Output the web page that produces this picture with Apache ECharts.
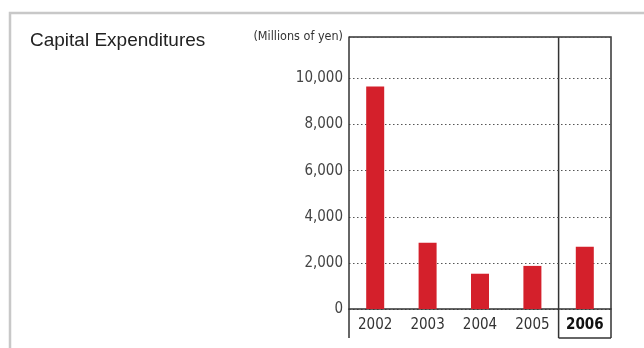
<!DOCTYPE html>
<html>
<head>
<meta charset="utf-8">
<script src="https://cdn.jsdelivr.net/npm/echarts@6/dist/echarts.min.js"></script>
<style>
  html, body { margin: 0; padding: 0; background: #fff; }
  #main { width: 644px; height: 348px; }
</style>
</head>
<body>
<div id="main"></div>
<script>
  const years = ['2002', '2003', '2004', '2005', '2006']
  const capex = [9650, 2870, 1530, 1870, 2700]
  const yTicks = [0, 2000, 4000, 6000, 8000, 10000]

  // plot box
  const gl = 349, gt = 37, gr = 611, gb = 309, boxBottom = 338
  const catW = (gr - gl) / years.length
  const sep = gl + catW * (years.length - 1)

  const narrow = '"DejaVu Sans Condensed", "Liberation Sans Narrow", sans-serif'
  const line = { stroke: '#333', lineWidth: 1.5 }

  const chart = echarts.init(document.getElementById('main'))
  chart.setOption({
    animation: false,
    grid: { left: gl, right: 644 - gr, top: gt, bottom: 348 - gb },
    title: {
      text: 'Capital Expenditures',
      left: 30,
      top: 31,
      padding: 0,
      textStyle: { fontFamily: '"Liberation Sans", Arial, sans-serif', fontSize: 19, fontWeight: 'normal', color: '#222' },
    },
    xAxis: {
      type: 'category',
      data: years,
      axisTick: { show: false },
      axisLine: { lineStyle: { color: '#333', width: 1.5 } },
      axisLabel: {
        interval: 0,
        margin: 9,
        fontFamily: narrow,
        fontSize: 15,
        color: '#333',
        formatter: (v) => (v === '2006' ? '{b|' + v + '}' : v),
        rich: { b: { fontFamily: narrow, fontSize: 15, fontWeight: 'bold', color: '#111' } },
      },
    },
    yAxis: {
      type: 'value',
      min: 0,
      max: 11800,
      interval: 2000,
      name: '(Millions of yen)',
      nameLocation: 'end',
      nameGap: 0,
      nameTextStyle: { fontFamily: narrow, fontSize: 12.5, color: '#333', align: 'right', verticalAlign: 'middle', padding: [0, 6, 0, 0] },
      axisLine: { show: true, lineStyle: { color: '#333', width: 1.5 } },
      axisTick: { show: false },
      axisLabel: {
        margin: 6,
        fontFamily: narrow,
        fontSize: 15,
        color: '#444',
        formatter: (v) => (yTicks.indexOf(v) >= 0 ? v.toLocaleString('en-US') : ''),
      },
      splitLine: { lineStyle: { color: '#555', type: [1.5, 2.5], width: 1 } },
    },
    series: [
      {
        type: 'bar',
        data: capex,
        barWidth: 18,
        itemStyle: { color: '#d4202b' },
      },
    ],
    graphic: [
      // outer gray frame
      { type: 'polyline', shape: { points: [[10, 348], [10, 13], [644, 13]] }, style: { stroke: '#c8c8c8', lineWidth: 2.5, fill: null } },
      // plot box top and right
      { type: 'polyline', shape: { points: [[gl, gt], [gr, gt], [gr, boxBottom]] }, style: Object.assign({ fill: null }, line) },
      // left axis extension
      { type: 'line', shape: { x1: gl, y1: gb, x2: gl, y2: boxBottom }, style: line },
      // 2006 box
      { type: 'line', shape: { x1: sep, y1: gt, x2: sep, y2: boxBottom }, style: line },
      { type: 'line', shape: { x1: sep, y1: boxBottom, x2: gr, y2: boxBottom }, style: line },
    ],
  })
</script>
</body>
</html>
